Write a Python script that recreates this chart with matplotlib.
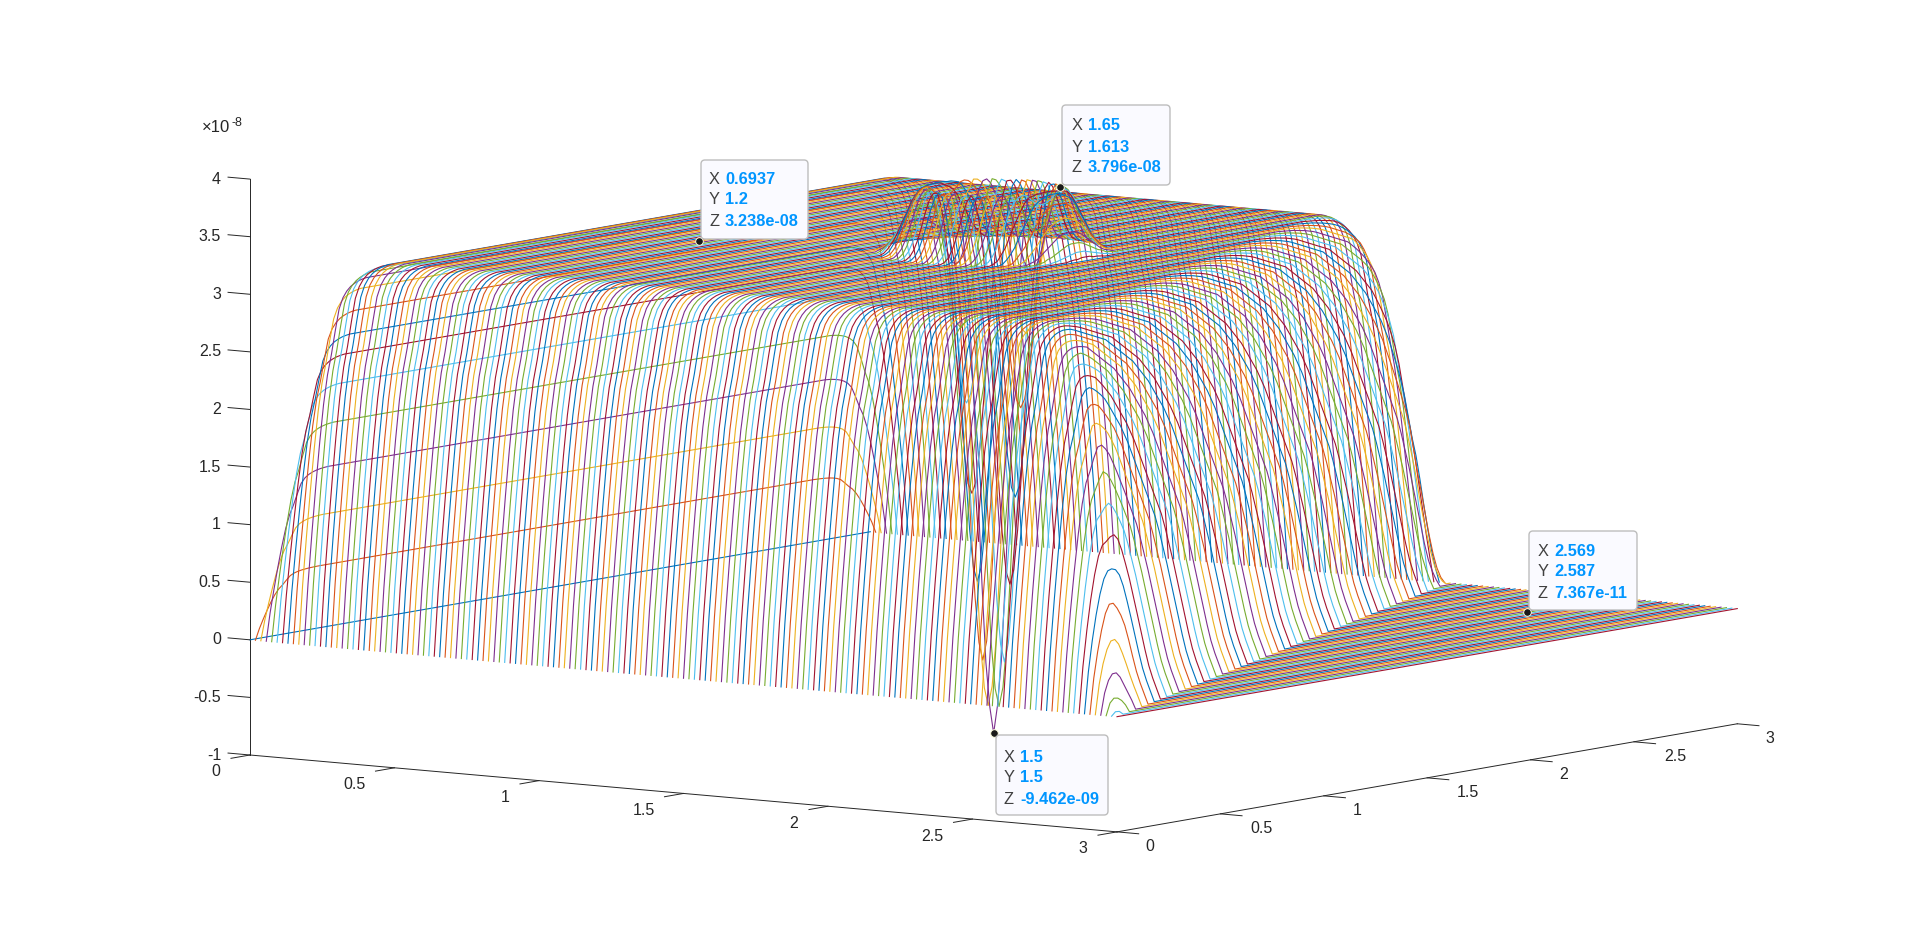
import numpy as np
import matplotlib
matplotlib.use("Agg")
import matplotlib.pyplot as plt
from matplotlib.patches import FancyBboxPatch
from mpl_toolkits.mplot3d import proj3d

plt.rcParams['font.family'] = ['Liberation Sans', 'DejaVu Sans']

W, H = 1920, 936

# data, z in units of 1e-8
x_ticks = [0, 0.5, 1, 1.5, 2, 2.5, 3]
y_ticks = [0, 0.5, 1, 1.5, 2, 2.5, 3]
z_ticks = [-1, -0.5, 0, 0.5, 1, 1.5, 2, 2.5, 3, 3.5, 4]
tick_names = ['0', '0.5', '1', '1.5', '2', '2.5', '3']
z_tick_names = ['-1', '-0.5', '0', '0.5', '1', '1.5', '2', '2.5', '3', '3.5', '4']

grid_step = 0.01875
grid_count = 161
plateau = 3.238

# height fraction, one entry per grid step away from a straight edge
edge_profile = [0, .17, .31, .44, .56, .665, .745, .80, .865, .925, .955,
                .972, .983, .99, .995, .998]
# same for the slanted edge, counted in y steps
slant_profile = [0, .03, .06, .095, .14, .19, .24, .29, .34, .385, .43, .47, .50,
                 .53, .56, .59, .62, .65, .68, .705, .73, .75, .77, .79, .81,
                 .825, .84, .855, .87, .88, .89, .90, .91, .92, .93, .94, .945,
                 .95, .955, .96, .965, .97, .975, .98, .984, .987, .99, .992,
                 .994, .996, .997, .998, .999]

# z around the centre (1.5, 1.5), row = larger grid offset, column = smaller one
dip_rows = [
    [-.946],
    [-.71, -.55],
    [-.32, -.16, .24],
    [.36, .48, .82, 1.31],
    [1.12, 1.21, 1.49, 1.90, 2.33],
    [1.90, 1.97, 2.15, 2.44, 2.77, 3.12],
    [2.55, 2.59, 2.73, 2.94, 3.17, 3.38, 3.56],
    [3.1, 3.12, 3.2, 3.32, 3.46, 3.59, 3.71, 3.78],
    [3.45, 3.46, 3.51, 3.57, 3.67, 3.73, 3.796, 3.79, 3.76],
    [3.68, 3.69, 3.71, 3.74, 3.78, 3.79, 3.78, 3.75, 3.70, 3.62],
    [3.796, 3.796, 3.79, 3.79, 3.78, 3.77, 3.73, 3.67, 3.60, 3.53, 3.45],
    [3.78, 3.78, 3.77, 3.75, 3.73, 3.70, 3.65, 3.57, 3.51, 3.44, 3.37, 3.32],
    [3.70, 3.70, 3.69, 3.66, 3.63, 3.58, 3.53, 3.47, 3.41, 3.36, 3.32, 3.28, 3.25],
    [3.58, 3.57, 3.56, 3.54, 3.51, 3.47, 3.43, 3.38, 3.34, 3.30, 3.27, 3.25],
    [3.46, 3.46, 3.45, 3.43, 3.40, 3.37, 3.34, 3.31, 3.28, 3.26, 3.25],
    [3.37, 3.37, 3.36, 3.34, 3.32, 3.30, 3.28, 3.27, 3.25, 3.245],
    [3.30, 3.30, 3.29, 3.28, 3.27, 3.26, 3.25, 3.245],
    [3.26, 3.26, 3.25, 3.25, 3.245],
]

# data tips
tip_x = [0.6937, 1.65, 1.5, 2.569]
tip_y = [1.2, 1.613, 1.5, 2.587]
tip_z = [3.238, 3.796, -0.9462, 0.007367]
tip_x_text = ['0.6937', '1.65', '1.5', '2.569']
tip_y_text = ['1.2', '1.613', '1.5', '2.587']
tip_z_text = ['3.238e-08', '3.796e-08', '-9.462e-09', '7.367e-11']
tip_boxes = [(701, 160, 808, 239), (1062, 105, 1170, 185),
             (996, 735, 1108, 815), (1529, 531, 1637, 610)]
tip_pad = [(8, 24), (10, 26), (8, 27), (9, 25)]

line_colors = ['#0072BD', '#D95319', '#EDB120', '#7E2F8E', '#77AC30', '#4DBEEE', '#A2142F']
ink = '#262626'


def edge(k):
    return edge_profile[k] if k < len(edge_profile) else 1.0


def slant(n):
    if n <= 0:
        return 0.0
    return slant_profile[n] if n < len(slant_profile) else 1.0


def height(i, j):
    a, b = abs(i - 80), abs(j - 80)
    a, b = max(a, b), min(a, b)
    if a < len(dip_rows) and b < len(dip_rows[a]):
        return dip_rows[a][b]
    return plateau * edge(i) * edge(j) * edge(160 - j) * slant(480 - 3 * i - j)


fig = plt.figure(figsize=(W / 100, H / 100), dpi=100)
side = 1700
ax = fig.add_axes([(W - side) / 2 / W, (H - side) / 2 / H, side / W, side / H], projection='3d')
ax.set_proj_type('ortho')
ax.view_init(elev=7.14, azim=-54.5)
ax.computed_zorder = False
ax.set_prop_cycle(color=line_colors)
ax.patch.set_alpha(0)

y_vals = np.arange(grid_count) * grid_step
for i in range(grid_count):
    z_vals = [height(i, j) for j in range(grid_count)]
    ax.plot(np.full(grid_count, i * grid_step), y_vals, z_vals, lw=0.8)

ax.plot(tip_x, tip_y, tip_z, ls='', marker='o', ms=5.5, mfc='#1a1a1a', mec='#FFFFE0', mew=0.7, zorder=5)

# tick marks point along the neighbouring box edge
for v in x_ticks:
    ax.plot([v, v], [0, -0.092], [-1, -1], color=ink, lw=0.7)
for v in y_ticks:
    ax.plot([3, 3.075], [v, v], [-1, -1], color=ink, lw=0.7)
for v in z_ticks:
    ax.plot([0, -0.076], [0, 0], [v, v], color=ink, lw=0.7)

ax.set_xlim(0, 3)
ax.set_ylim(0, 3)
ax.set_zlim(-1, 4)
ax.set_xticks(x_ticks)
ax.set_yticks(y_ticks)
ax.set_zticks(z_ticks)
ax.set_xticklabels([])
ax.set_yticklabels([])
ax.set_zticklabels([])
ax.grid(False)
for axis in (ax.xaxis, ax.yaxis, ax.zaxis):
    axis.set_pane_color((1, 1, 1, 0))
    axis.pane.set_edgecolor((1, 1, 1, 0))
    axis.line.set_color(ink)
    axis.line.set_linewidth(0.7)
    axis._axinfo['tick']['inward_factor'] = 0
    axis._axinfo['tick']['outward_factor'] = 0
    axis._axinfo['tick']['linewidth'] = {True: 0, False: 0}
ax.zaxis.set_ticks_position('lower')


def to_px(x, y, z):
    px, py, _ = proj3d.proj_transform(x, y, z, ax.get_proj())
    return ax.transData.transform((px, py))


# fit the box onto the axis corners of the reference
zoom = 1.0
ax.set_box_aspect((1, 1.003, 0.545), zoom=zoom)
fig.canvas.draw()
a, b = to_px(0, 0, -1), to_px(3, 0, -1)
zoom = zoom * 867 / (b[0] - a[0])
ax.set_box_aspect((1, 1.003, 0.545), zoom=zoom)
fig.canvas.draw()
a = to_px(0, 0, -1)
pos = ax.get_position()
ax.set_position([pos.x0 + (250 - a[0]) / W, pos.y0 + (H - 755 - a[1]) / H, pos.width, pos.height])
fig.canvas.draw()

# tick labels
for v, name in zip(x_ticks, tick_names):
    off = (-34 if len(name) == 1 else -40, -17)
    ax.annotate(name, xy=proj3d.proj_transform(v, 0, -1, ax.get_proj())[:2], xytext=off,
                textcoords='offset pixels', ha='center', va='center', fontsize=11.5, color=ink)
for v, name in zip(y_ticks, tick_names):
    off = (33 if len(name) == 1 else 41, -15)
    ax.annotate(name, xy=proj3d.proj_transform(3, v, -1, ax.get_proj())[:2], xytext=off,
                textcoords='offset pixels', ha='center', va='center', fontsize=11.5, color=ink)
for v, name in zip(z_ticks, z_tick_names):
    ax.annotate(name, xy=proj3d.proj_transform(0, 0, v, ax.get_proj())[:2], xytext=(-29, 0),
                textcoords='offset pixels', ha='right', va='center', fontsize=11.5, color=ink)

fig.text(202 / W, 1 - 128 / H, '\u00d710', fontsize=12, color=ink, ha='left', va='center')
fig.text(232 / W, 1 - 123 / H, '-8', fontsize=9, color=ink, ha='left', va='center')

# data tip boxes
for k, (x0, y0, x1, y1) in enumerate(tip_boxes):
    box = FancyBboxPatch((x0 + 3, H - y1 + 3), x1 - x0 - 6, y1 - y0 - 6, boxstyle='round,pad=3,rounding_size=4',
                         transform=None, fc='#FAFAFF', ec='#BDBDBD', lw=1.0, zorder=10)
    fig.add_artist(box)
    left, top = tip_pad[k]
    rows = [('X', tip_x_text[k]), ('Y', tip_y_text[k]), ('Z', tip_z_text[k])]
    for r, (letter, value) in enumerate(rows):
        ty = y0 + top - 5 + r * 21
        fig.text((x0 + left) / W, 1 - ty / H, letter, fontsize=11.8, color='#404040', ha='left', va='center', zorder=11)
        fig.text((x0 + left + 16) / W, 1 - ty / H, value, fontsize=11.8, color='#0096FF', fontweight='bold',
                 ha='left', va='center', zorder=11)

fig.savefig('out.png', dpi=100)
